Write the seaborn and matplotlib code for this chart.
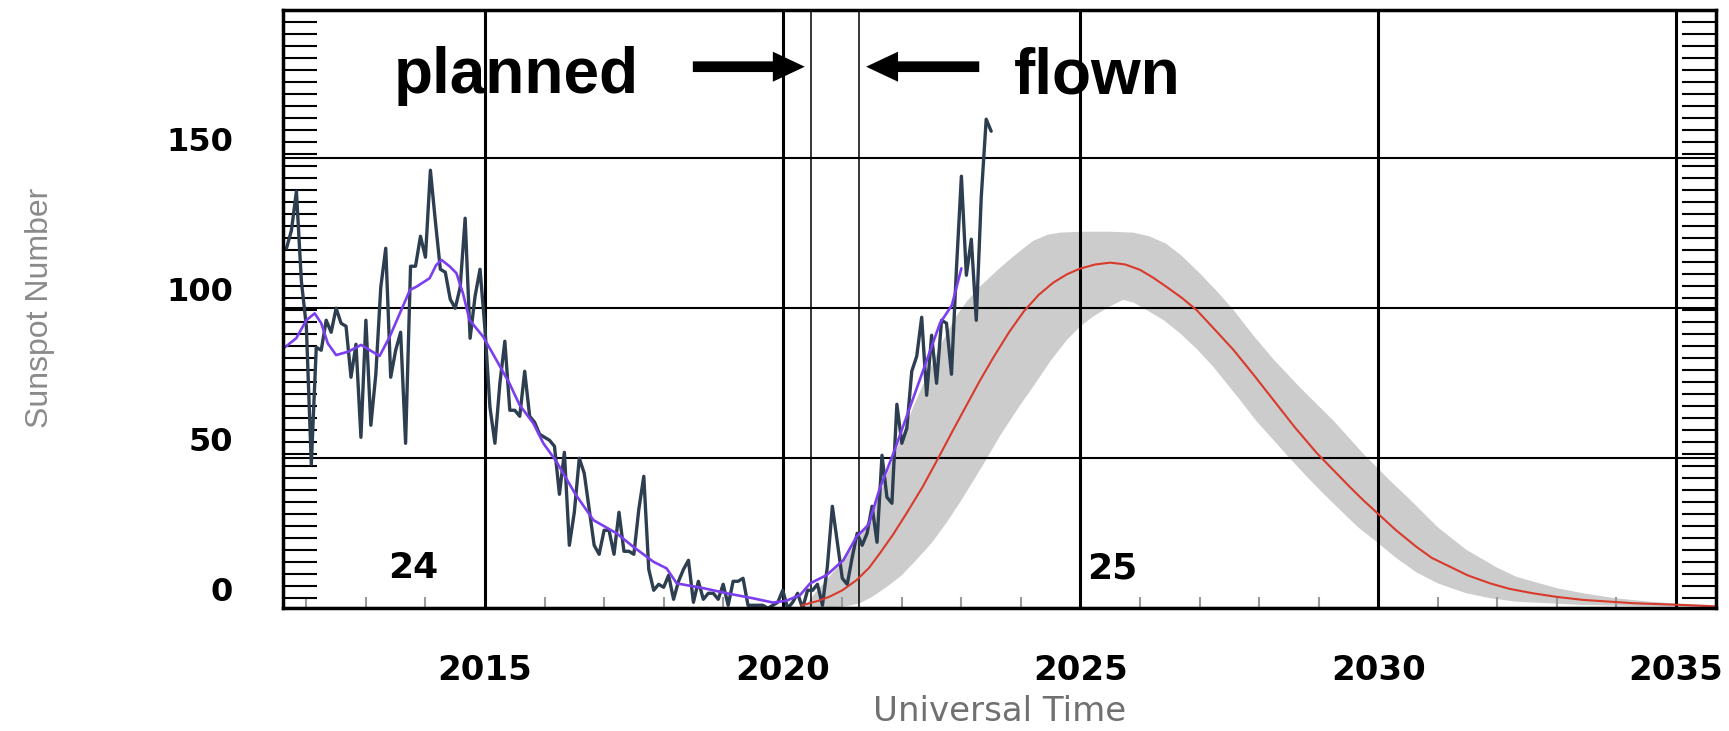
import numpy as np
import matplotlib
matplotlib.use("Agg")
import matplotlib.pyplot as plt
import seaborn as sns
from matplotlib import font_manager as fm
from matplotlib.ticker import FixedLocator, MultipleLocator

# ---------------------------------------------------------------- data
# Monthly observed sunspot number, Sep 2011 .. Jul 2023
obs_first_year = 2011
obs_first_month = 9
observed = [
    120, 126, 139, 109,                                          # 2011
    94, 48, 87, 86, 96, 92, 100, 95, 94, 77, 88, 57,             # 2012
    96, 61, 78, 107, 120, 77, 86, 92, 55, 114, 114, 124,         # 2013
    117, 146, 129, 113, 112, 103, 100, 107, 130, 90, 104, 113,   # 2014
    93, 67, 55, 75, 89, 66, 66, 64, 79, 64, 62, 58,              # 2015
    57, 56, 54, 38, 52, 21, 32, 50, 45, 33, 21, 18,              # 2016
    26, 26, 18, 32, 19, 19, 18, 33, 44, 13, 6, 8,                # 2017
    7, 11, 3, 9, 13, 16, 2, 9, 3, 5, 5, 3,                       # 2018
    8, 1, 9, 9, 10, 1, 1, 1, 1, 0, 1, 2,                         # 2019
    6, 0, 2, 5, 0, 6, 6, 8, 1, 14, 34, 22,                       # 2020
    10, 8, 17, 25, 21, 25, 34, 22, 51, 37, 35, 68,               # 2021
    55, 60, 79, 84, 97, 71, 91, 75, 96, 95, 78, 113,             # 2022
    144, 111, 123, 96, 137, 163, 159,                            # 2023
]

# Smoothed sunspot number
smooth_year = [2011.62, 2011.83, 2012.00, 2012.14, 2012.25, 2012.36, 2012.50, 2012.70,
               2012.92, 2013.06, 2013.23, 2013.40, 2013.57, 2013.74, 2013.85, 2014.07,
               2014.18, 2014.27, 2014.41, 2014.52, 2014.63, 2014.74, 2014.97, 2015.19,
               2015.41, 2015.58, 2015.81, 2015.98, 2016.20, 2016.51, 2016.82, 2017.21,
               2017.49, 2017.83, 2018.05, 2018.22, 2018.67, 2019.06, 2019.51, 2019.84,
               2020.07, 2020.29, 2020.46, 2020.74, 2021.02, 2021.24, 2021.44, 2021.63,
               2021.86, 2022.08, 2022.36, 2022.64, 2022.84, 2023.00]
smooth_value = [86.7, 90.0, 96.0, 98.3, 95.0, 88.3, 84.4, 85.5,
                87.8, 86.1, 84.1, 90.5, 98.3, 106.1, 107.2, 110.0,
                114.4, 116.1, 113.9, 111.7, 105.0, 96.1, 90.5, 82.8,
                75.0, 67.8, 61.7, 55.0, 48.9, 38.3, 29.4, 25.0,
                20.5, 15.5, 13.3, 8.3, 6.7, 5.0, 3.3, 1.9,
                2.6, 4.4, 8.3, 11.1, 16.1, 23.9, 27.8, 40.0,
                51.7, 63.9, 79.4, 95.0, 101.0, 113.3]

# Predicted smoothed sunspot number for cycle 25
pred_year = [2020.32, 2020.60, 2020.79, 2021.00, 2021.24, 2021.45, 2021.63, 2021.85,
             2022.08, 2022.35, 2022.61, 2022.85, 2023.09, 2023.30, 2023.54, 2023.80,
             2024.05, 2024.30, 2024.54, 2024.77, 2024.99, 2025.25, 2025.50, 2025.75,
             2026.00, 2026.22, 2026.44, 2026.70, 2026.95, 2027.25, 2027.57, 2027.90,
             2028.24, 2028.60, 2028.97, 2029.25, 2029.52, 2029.75, 2029.97, 2030.30,
             2030.64, 2030.90, 2031.20, 2031.50, 2031.88, 2032.20, 2032.60, 2033.00,
             2033.44, 2033.90, 2034.28, 2034.70, 2035.12, 2035.70]
pred_value = [1.0, 2.5, 3.9, 6.0, 9.4, 13.5, 18.3, 24.5,
              31.7, 40.5, 50.0, 59.0, 67.8, 75.5, 83.7, 92.0,
              99.0, 104.5, 108.5, 111.3, 113.2, 114.6, 115.2, 114.6,
              112.8, 110.2, 107.2, 103.5, 99.4, 93.0, 86.1, 78.0,
              69.4, 60.3, 51.7, 46.0, 40.5, 36.0, 32.0, 26.0,
              20.5, 16.8, 13.9, 11.0, 8.3, 6.5, 5.0, 3.8,
              2.8, 2.2, 1.7, 1.4, 1.1, 0.6]

# Prediction range (upper and lower edges)
band_hi_year = [2020.35, 2020.50, 2020.80, 2021.00, 2021.24, 2021.45, 2021.60, 2021.86,
                2022.00, 2022.19, 2022.50, 2022.70, 2022.90, 2023.10, 2023.30, 2023.65,
                2023.98, 2024.21, 2024.45, 2024.66, 2025.00, 2025.50, 2025.89, 2026.15,
                2026.44, 2026.70, 2027.00, 2027.30, 2027.57, 2027.90, 2028.24, 2028.69,
                2029.25, 2029.75, 2030.20, 2030.52, 2031.00, 2031.48, 2032.00, 2032.32,
                2033.00, 2033.44, 2034.00, 2034.56, 2035.10, 2035.70]
band_hi = [0.0, 4.0, 11.0, 15.5, 22.0, 30.0, 37.0, 50.0,
           57.5, 67.0, 81.0, 89.5, 97.0, 102.5, 107.0, 113.5,
           119.0, 122.5, 124.5, 125.2, 125.5, 125.5, 125.2, 124.0,
           121.5, 117.5, 111.7, 105.5, 99.4, 91.0, 83.0, 73.5,
           62.5, 51.5, 42.5, 36.5, 27.0, 19.5, 13.5, 10.5,
           6.7, 5.0, 3.3, 2.2, 1.5, 1.0]
band_lo_year = [2020.35, 2020.80, 2021.10, 2021.30, 2021.50, 2021.74, 2022.00, 2022.19,
                2022.40, 2022.53, 2022.75, 2023.00, 2023.34, 2023.65, 2023.98, 2024.21,
                2024.50, 2024.77, 2025.00, 2025.21, 2025.50, 2025.72, 2025.90, 2026.11,
                2026.40, 2026.67, 2026.95, 2027.23, 2027.68, 2027.95, 2028.24, 2028.50,
                2028.80, 2029.10, 2029.36, 2029.65, 2029.95, 2030.30, 2030.64, 2031.00,
                2031.48, 2031.90, 2032.32, 2033.44, 2034.50, 2035.70]
band_lo = [0.0, 0.3, 0.8, 1.7, 3.8, 7.0, 11.0, 15.0,
           19.5, 22.5, 28.5, 36.0, 47.0, 57.5, 67.5, 74.0,
           82.5, 89.4, 94.0, 97.2, 100.7, 102.8, 101.8, 99.4,
           96.0, 91.7, 86.5, 80.5, 69.4, 62.5, 56.1, 50.3,
           43.9, 37.8, 32.8, 27.2, 22.5, 16.8, 12.0, 8.3,
           5.0, 3.3, 2.2, 1.1, 0.7, 0.5]

# Planned and flown dates
planned_year = 2020.48
flown_year = 2021.28

# Axis ticks and annotations
x_tick_years = [2015, 2020, 2025, 2030, 2035]
x_tick_labels = ["2015", "2020", "2025", "2030", "2035"]
y_tick_values = [0, 50, 100, 150]
y_tick_labels = ["0", "50", "100", "150"]
cycle_labels = ["24", "25"]
cycle_label_year = [2013.79, 2025.53]

# ---------------------------------------------------------------- style
sns.set_theme(style="white")
plt.rcParams["font.family"] = ["DejaVu Sans"]


def font_available(name):
    try:
        fm.findfont(fm.FontProperties(family=name), fallback_to_default=False)
        return True
    except ValueError:
        return False


narrow = font_available("Liberation Sans Narrow")
narrow_family = ["Liberation Sans Narrow", "Liberation Sans", "DejaVu Sans"]
arial_family = ["Liberation Sans", "DejaVu Sans"]

OBS_COLOR = "#2c3e50"
SMOOTH_COLOR = "#7b3ff0"
PRED_COLOR = "#d93a2b"
BAND_COLOR = "#cccccc"

W, H = 1729, 731
fig = plt.figure(figsize=(W / 100, H / 100), dpi=100)
fig.patch.set_facecolor("white")
left_px, right_px, top_px, bottom_px = 283, 1716, 10, 608.3
ax = fig.add_axes([left_px / W, 1 - bottom_px / H,
                   (right_px - left_px) / W, (bottom_px - top_px) / H])
ax.set_facecolor("white")

# ---------------------------------------------------------------- marks
ax.fill(np.concatenate([band_hi_year, band_lo_year[::-1]]),
        np.concatenate([band_hi, band_lo[::-1]]),
        color=BAND_COLOR, lw=0, zorder=0.3)

obs_year = obs_first_year + (obs_first_month - 1 + np.arange(len(observed))) / 12
sns.lineplot(x=obs_year, y=observed, ax=ax, color=OBS_COLOR, linewidth=2.4,
             legend=False, zorder=2)
sns.lineplot(x=smooth_year, y=smooth_value, ax=ax, color=SMOOTH_COLOR,
             linewidth=1.9, legend=False, zorder=2.1)
sns.lineplot(x=pred_year, y=pred_value, ax=ax, color=PRED_COLOR, linewidth=1.5,
             legend=False, zorder=2.05)

for yr in (planned_year, flown_year):
    ax.axvline(yr, color="black", lw=1.1, zorder=0.6)

# ---------------------------------------------------------------- axes
ax.set_xlim(2011.608, 2035.672)
ax.set_ylim(0, 199.4)

ax.set_xticks(x_tick_years, x_tick_labels, fontsize=24.5, fontweight="bold",
              color="black")
ax.set_yticks(y_tick_values, y_tick_labels, fontsize=23, fontweight="bold",
              color="black", va="bottom")
ax.xaxis.set_minor_locator(MultipleLocator(1))
ax.yaxis.set_minor_locator(FixedLocator(np.arange(3.5, 199.4, 4)))

ax.tick_params(axis="x", which="major", length=0, pad=33)
ax.tick_params(axis="y", which="major", length=0, pad=36)
ax.tick_params(axis="x", which="minor", direction="in", bottom=True, top=False,
               length=8, width=1.5, color="#9a9a9a")
ax.tick_params(axis="y", which="minor", direction="in", left=True, right=True,
               length=24.5, width=1.5, color="black")

ax.grid(axis="y", which="major", color="black", lw=1.5)
ax.grid(axis="x", which="major", color="black", lw=2.2)
ax.grid(which="minor", visible=False)

for side in ("left", "right", "top", "bottom"):
    ax.spines[side].set_visible(True)
    ax.spines[side].set_color("black")
    ax.spines[side].set_linewidth(2.5)

# x label sits just above the lower figure edge
ax.set_xlabel("Universal Time", fontsize=24.5, color="#707070",
              family=["DejaVu Sans"])
ax.xaxis.set_label_coords(0.5, (bottom_px - 721) / (bottom_px - top_px))
ax.xaxis.label.set_va("baseline")

ax.set_ylabel("Sunspot Number", fontsize=29 if narrow else 23, color="#8a8a8a",
              family=narrow_family, va="center")
ax.yaxis.set_label_coords(-0.1696, 0.502)

# ---------------------------------------------------------------- annotations
for label, yr in zip(cycle_labels, cycle_label_year):
    ax.text(yr, 10, label, ha="center", va="baseline", fontsize=26,
            fontweight="bold", color="black", zorder=3)

note_size = 46
note_y = 171.7
ax.text(planned_year - 2.89, note_y, "planned", ha="right", va="baseline",
        fontsize=note_size, fontweight="bold", family=arial_family,
        color="black", zorder=3)
ax.text(flown_year + 2.60, note_y, "flown", ha="left", va="baseline",
        fontsize=note_size, fontweight="bold", family=arial_family,
        color="black", zorder=3)

arrow_style = "simple,head_length=1.0,head_width=0.94,tail_width=0.335"
arrow_y = 180.5
ax.annotate("", xy=(planned_year - 0.11, arrow_y), xytext=(planned_year - 1.99, arrow_y),
            arrowprops=dict(arrowstyle=arrow_style, mutation_scale=23, color="black",
                            shrinkA=0, shrinkB=0, lw=0), zorder=3)
ax.annotate("", xy=(flown_year + 0.12, arrow_y), xytext=(flown_year + 2.02, arrow_y),
            arrowprops=dict(arrowstyle=arrow_style, mutation_scale=23, color="black",
                            shrinkA=0, shrinkB=0, lw=0), zorder=3)

fig.savefig("out.png", dpi=100, facecolor="white")
